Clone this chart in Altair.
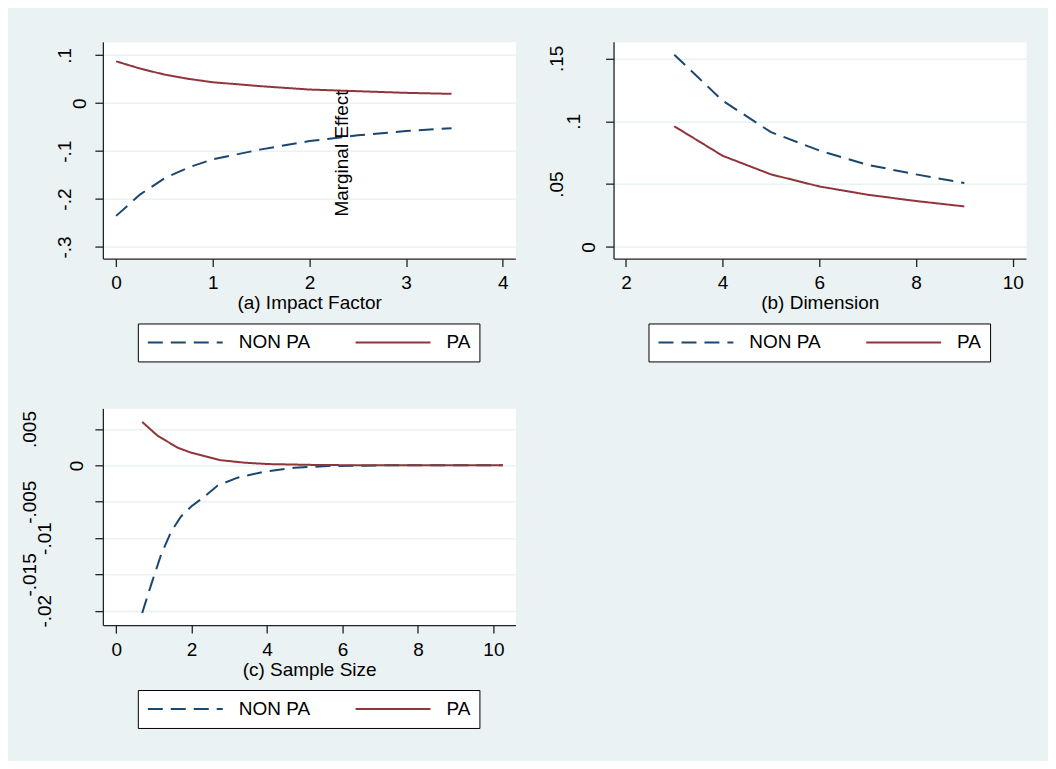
import altair as alt
import pandas as pd

FONT = "Liberation Sans"
SERIES = ["NON PA", "PA"]
COLORS = ["#1A476F", "#90353B"]
DASHES = [[15, 8], [1, 0]]
BG = "#EAF2F3"

# (a) Impact Factor
a_x = [0, 0.25, 0.5, 0.75, 1.0, 1.5, 2.0, 2.5, 3.0, 3.47]
a_nonpa = [-0.235, -0.19, -0.1566, -0.134, -0.117, -0.0963, -0.079, -0.067, -0.058, -0.052]
a_pa = [0.0873, 0.0721, 0.0597, 0.0507, 0.0437, 0.0354, 0.0285, 0.025, 0.0216, 0.0195]
a_xticks = [0, 1, 2, 3, 4]
a_yticks = [-0.3, -0.2, -0.1, 0, 0.1]

# (b) Dimension
b_x = [3, 4, 5, 6, 7, 8, 9]
b_nonpa = [0.1529, 0.1164, 0.0913, 0.0767, 0.0653, 0.0577, 0.0508]
b_pa = [0.096, 0.0725, 0.0577, 0.0481, 0.0415, 0.0365, 0.0322]
b_xticks = [2, 4, 6, 8, 10]
b_yticks = [0, 0.05, 0.1, 0.15]

# (c) Sample Size
c_x_nonpa = [0.69, 0.928, 1.19, 1.46, 1.72, 1.99, 2.34, 2.69, 3.22, 3.93, 4.73, 5.61, 7.0, 10.25]
c_nonpa = [-0.0203, -0.0164, -0.0123, -0.0091, -0.00703, -0.00566, -0.00429, -0.00278,
           -0.00169, -0.00087, -0.00032, -0.0001, 0.0, 0.0]
c_x_pa = [0.69, 1.1, 1.635, 1.99, 2.74, 3.4, 4.02, 5.35, 7.0, 10.25]
c_pa = [0.00598, 0.00407, 0.00242, 0.00174, 0.00073, 0.00037, 0.00018, 0.00005, 0.0, 0.0]
c_xticks = [0, 2, 4, 6, 8, 10]
c_yticks = [-0.02, -0.015, -0.01, -0.005, 0, 0.005]

note_text = ["Marginal Effect"]
note_x = [2.34]
note_y = [-0.105]


def long_df(x1, y1, x2, y2):
    rows = [{"x": x, "y": y, "series": SERIES[0]} for x, y in zip(x1, y1)]
    rows += [{"x": x, "y": y, "series": SERIES[1]} for x, y in zip(x2, y2)]
    return pd.DataFrame(rows)


LABEL_EXPR = "(datum.value < -1e-12 ? '-' : '') + replace(format(abs(datum.value), '~g'), '0.', '.')"

W, H = 413, 217


def panel(df, xdom, xticks, xtitle, ydom, yticks, ypad, extra=None):
    legend = alt.Legend(
        title=None, orient="none", legendX=35, legendY=H + 65, direction="horizontal",
        symbolType="stroke", symbolSize=5625, symbolStrokeWidth=2, clipHeight=20,
        labelFont=FONT, labelFontSize=19, labelColor="#000", labelOffset=15,
        columnPadding=44, padding=9, strokeColor="#000", fillColor="#FFFFFF",
    )
    lines = alt.Chart(df).mark_line(strokeWidth=2).encode(
        x=alt.X("x:Q", scale=alt.Scale(domain=xdom, nice=False, zero=False),
                axis=alt.Axis(values=xticks, format="d", title=xtitle, grid=False,
                              labelFlush=False, labelOverlap=False, labelPadding=7,
                              titlePadding=1)),
        y=alt.Y("y:Q", scale=alt.Scale(domain=ydom, nice=False, zero=False),
                axis=alt.Axis(values=yticks, labelExpr=LABEL_EXPR, title=None,
                              labelAngle=-90, labelAlign="center", labelBaseline="bottom",
                              labelPadding=ypad, labelFlush=False, labelOverlap=False,
                              grid=True, gridColor=BG, gridWidth=1.5)),
        color=alt.Color("series:N", scale=alt.Scale(domain=SERIES, range=COLORS), legend=legend),
        strokeDash=alt.StrokeDash("series:N", scale=alt.Scale(domain=SERIES, range=DASHES), legend=legend),
    )
    ch = lines
    if extra is not None:
        ch = alt.layer(lines, extra)
    return ch.properties(width=W, height=H)


note_df = pd.DataFrame({"x": note_x, "y": note_y, "t": note_text})
note = alt.Chart(note_df).mark_text(angle=270, font=FONT, fontSize=19, color="#000",
                                    align="center", baseline="middle").encode(
    x="x:Q", y="y:Q", text="t:N")

ZERO = "abs(datum.value) < 1e-9"

pa = panel(long_df(a_x, a_nonpa, a_x, a_pa), [-0.137, 4.13], a_xticks, "(a) Impact Factor",
           [-0.324, 0.128], a_yticks,
           {"condition": [{"test": ZERO, "value": 5}], "value": 20}, extra=note)

pb = panel(long_df(b_x, b_nonpa, b_x, b_pa), [1.744, 10.276], b_xticks, "(b) Dimension",
           [-0.0093, 0.1632], b_yticks,
           {"condition": [{"test": ZERO, "value": 7},
                          {"test": "abs(datum.value - 0.1) < 1e-9", "value": 22}], "value": 39})

pc = panel(long_df(c_x_nonpa, c_nonpa, c_x_pa, c_pa), [-0.352, 10.583], c_xticks, "(c) Sample Size",
           [-0.02197, 0.00784], c_yticks,
           {"condition": [{"test": ZERO, "value": 8},
                          {"test": "abs(datum.value + 0.01) < 1e-9 || abs(datum.value + 0.02) < 1e-9",
                           "value": 40}], "value": 55})

chart = alt.concat(pa, pb, pc, columns=2, spacing={"row": 150, "column": 98.3},
                   bounds="flush").resolve_scale(
    color="independent", strokeDash="independent"
).resolve_legend(
    color="independent", strokeDash="independent"
).properties(
    background=BG,
    padding={"left": 12, "top": 32.4, "right": 21.3, "bottom": 31.7},
).configure(font=FONT).configure_view(fill="#FFFFFF", stroke="transparent").configure_axis(
    labelFont=FONT, labelFontSize=19, labelColor="#000",
    titleFont=FONT, titleFontSize=19, titleFontWeight="normal", titleColor="#000",
    domainColor="#222", domainWidth=1.3, tickColor="#222", tickWidth=1.3, tickSize=8,
)

chart.save("out.html", embed_options={"renderer": "svg", "actions": False})
